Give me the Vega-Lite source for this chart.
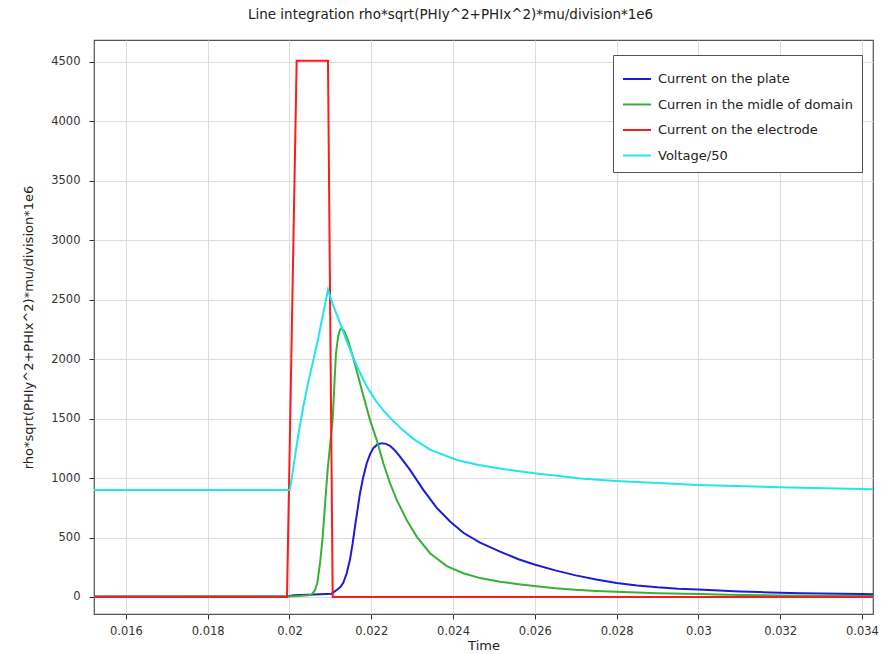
{
  "$schema": "https://vega.github.io/schema/vega-lite/v6.json",
  "width": 779,
  "height": 574,
  "autosize": {"type": "none"},
  "padding": {"left": 94, "top": 40, "right": 21, "bottom": 40},
  "background": "white",
  "config": {
    "font": "DejaVu Sans",
    "view": {"stroke": "#555555", "strokeWidth": 1.2},
    "axis": {
      "labelFont": "DejaVu Sans",
      "labelFontSize": 11.5,
      "labelColor": "#333333",
      "titleFont": "DejaVu Sans",
      "titleFontSize": 13,
      "titleFontWeight": "normal",
      "titleColor": "#222222",
      "domain": false,
      "tickColor": "#333333",
      "tickSize": 5,
      "gridColor": "#dddddd",
      "gridWidth": 1
    }
  },
  "title": {
    "text": "Line integration rho*sqrt(PHIy^2+PHIx^2)*mu/division*1e6",
    "font": "DejaVu Sans",
    "fontSize": 13.5,
    "fontWeight": "normal",
    "color": "#222222",
    "anchor": "middle",
    "frame": "bounds",
    "offset": 19
  },
  "data": {
    "values": [
      {"series": "Current on the plate", "t": 0.01522, "v": 5},
      {"series": "Current on the plate", "t": 0.01994, "v": 5},
      {"series": "Current on the plate", "t": 0.0201, "v": 15},
      {"series": "Current on the plate", "t": 0.0206, "v": 20},
      {"series": "Current on the plate", "t": 0.02103, "v": 28},
      {"series": "Current on the plate", "t": 0.021155, "v": 59},
      {"series": "Current on the plate", "t": 0.02125, "v": 85},
      {"series": "Current on the plate", "t": 0.021316, "v": 120},
      {"series": "Current on the plate", "t": 0.0214, "v": 200},
      {"series": "Current on the plate", "t": 0.02148, "v": 315},
      {"series": "Current on the plate", "t": 0.021545, "v": 450},
      {"series": "Current on the plate", "t": 0.021602, "v": 592},
      {"series": "Current on the plate", "t": 0.021665, "v": 735},
      {"series": "Current on the plate", "t": 0.021725, "v": 873},
      {"series": "Current on the plate", "t": 0.021805, "v": 1010},
      {"series": "Current on the plate", "t": 0.021889, "v": 1125},
      {"series": "Current on the plate", "t": 0.02197, "v": 1200},
      {"series": "Current on the plate", "t": 0.02205, "v": 1252},
      {"series": "Current on the plate", "t": 0.02215, "v": 1283},
      {"series": "Current on the plate", "t": 0.022256, "v": 1294},
      {"series": "Current on the plate", "t": 0.02236, "v": 1288},
      {"series": "Current on the plate", "t": 0.022459, "v": 1271},
      {"series": "Current on the plate", "t": 0.02258, "v": 1232},
      {"series": "Current on the plate", "t": 0.022703, "v": 1181},
      {"series": "Current on the plate", "t": 0.022948, "v": 1069},
      {"series": "Current on the plate", "t": 0.023273, "v": 901},
      {"series": "Current on the plate", "t": 0.023601, "v": 750},
      {"series": "Current on the plate", "t": 0.023927, "v": 635},
      {"series": "Current on the plate", "t": 0.024252, "v": 540},
      {"series": "Current on the plate", "t": 0.024661, "v": 458},
      {"series": "Current on the plate", "t": 0.02515, "v": 381},
      {"series": "Current on the plate", "t": 0.0256, "v": 318},
      {"series": "Current on the plate", "t": 0.02599, "v": 274},
      {"series": "Current on the plate", "t": 0.0265, "v": 224},
      {"series": "Current on the plate", "t": 0.027, "v": 182},
      {"series": "Current on the plate", "t": 0.0275, "v": 147},
      {"series": "Current on the plate", "t": 0.028, "v": 117},
      {"series": "Current on the plate", "t": 0.0285, "v": 96},
      {"series": "Current on the plate", "t": 0.029, "v": 81},
      {"series": "Current on the plate", "t": 0.0295, "v": 70},
      {"series": "Current on the plate", "t": 0.03, "v": 63},
      {"series": "Current on the plate", "t": 0.0305, "v": 54},
      {"series": "Current on the plate", "t": 0.031, "v": 46},
      {"series": "Current on the plate", "t": 0.0315, "v": 41},
      {"series": "Current on the plate", "t": 0.032, "v": 36},
      {"series": "Current on the plate", "t": 0.0325, "v": 32},
      {"series": "Current on the plate", "t": 0.033, "v": 29},
      {"series": "Current on the plate", "t": 0.0335, "v": 27},
      {"series": "Current on the plate", "t": 0.034, "v": 25},
      {"series": "Current on the plate", "t": 0.03427, "v": 24},

      {"series": "Curren in the midle of domain", "t": 0.01522, "v": 3},
      {"series": "Curren in the midle of domain", "t": 0.01994, "v": 5},
      {"series": "Curren in the midle of domain", "t": 0.0203, "v": 10},
      {"series": "Curren in the midle of domain", "t": 0.02045, "v": 14},
      {"series": "Curren in the midle of domain", "t": 0.020543, "v": 20},
      {"series": "Curren in the midle of domain", "t": 0.02062, "v": 55},
      {"series": "Curren in the midle of domain", "t": 0.02068, "v": 118},
      {"series": "Curren in the midle of domain", "t": 0.02075, "v": 290},
      {"series": "Curren in the midle of domain", "t": 0.020812, "v": 508},
      {"series": "Curren in the midle of domain", "t": 0.02087, "v": 780},
      {"series": "Curren in the midle of domain", "t": 0.020934, "v": 1069},
      {"series": "Curren in the midle of domain", "t": 0.021, "v": 1300},
      {"series": "Curren in the midle of domain", "t": 0.021057, "v": 1490},
      {"series": "Curren in the midle of domain", "t": 0.0211, "v": 1800},
      {"series": "Curren in the midle of domain", "t": 0.021138, "v": 2054},
      {"series": "Curren in the midle of domain", "t": 0.02119, "v": 2190},
      {"series": "Curren in the midle of domain", "t": 0.021236, "v": 2248},
      {"series": "Curren in the midle of domain", "t": 0.021277, "v": 2264},
      {"series": "Curren in the midle of domain", "t": 0.02135, "v": 2230},
      {"series": "Curren in the midle of domain", "t": 0.02144, "v": 2150},
      {"series": "Curren in the midle of domain", "t": 0.02156, "v": 2010},
      {"series": "Curren in the midle of domain", "t": 0.0217, "v": 1830},
      {"series": "Curren in the midle of domain", "t": 0.02184, "v": 1650},
      {"series": "Curren in the midle of domain", "t": 0.021969, "v": 1490},
      {"series": "Curren in the midle of domain", "t": 0.022133, "v": 1322},
      {"series": "Curren in the midle of domain", "t": 0.022295, "v": 1125},
      {"series": "Curren in the midle of domain", "t": 0.022459, "v": 957},
      {"series": "Curren in the midle of domain", "t": 0.022623, "v": 817},
      {"series": "Curren in the midle of domain", "t": 0.022867, "v": 648},
      {"series": "Curren in the midle of domain", "t": 0.023112, "v": 508},
      {"series": "Curren in the midle of domain", "t": 0.023437, "v": 368},
      {"series": "Curren in the midle of domain", "t": 0.023846, "v": 260},
      {"series": "Curren in the midle of domain", "t": 0.024252, "v": 200},
      {"series": "Curren in the midle of domain", "t": 0.024661, "v": 159},
      {"series": "Curren in the midle of domain", "t": 0.02515, "v": 128},
      {"series": "Curren in the midle of domain", "t": 0.0256, "v": 108},
      {"series": "Curren in the midle of domain", "t": 0.02599, "v": 93},
      {"series": "Curren in the midle of domain", "t": 0.0265, "v": 74},
      {"series": "Curren in the midle of domain", "t": 0.027, "v": 60},
      {"series": "Curren in the midle of domain", "t": 0.0275, "v": 51},
      {"series": "Curren in the midle of domain", "t": 0.028, "v": 44},
      {"series": "Curren in the midle of domain", "t": 0.0285, "v": 37},
      {"series": "Curren in the midle of domain", "t": 0.029, "v": 32},
      {"series": "Curren in the midle of domain", "t": 0.03, "v": 25},
      {"series": "Curren in the midle of domain", "t": 0.031, "v": 17},
      {"series": "Curren in the midle of domain", "t": 0.032, "v": 12},
      {"series": "Curren in the midle of domain", "t": 0.033, "v": 9},
      {"series": "Curren in the midle of domain", "t": 0.03427, "v": 8},

      {"series": "Current on the electrode", "t": 0.01522, "v": 0},
      {"series": "Current on the electrode", "t": 0.01994, "v": 0},
      {"series": "Current on the electrode", "t": 0.020176, "v": 4510},
      {"series": "Current on the electrode", "t": 0.020942, "v": 4510},
      {"series": "Current on the electrode", "t": 0.021057, "v": 0},
      {"series": "Current on the electrode", "t": 0.03427, "v": 0},

      {"series": "Voltage/50", "t": 0.01522, "v": 901},
      {"series": "Voltage/50", "t": 0.02001, "v": 901},
      {"series": "Voltage/50", "t": 0.020086, "v": 1069},
      {"series": "Voltage/50", "t": 0.02021, "v": 1350},
      {"series": "Voltage/50", "t": 0.020338, "v": 1600},
      {"series": "Voltage/50", "t": 0.02046, "v": 1810},
      {"series": "Voltage/50", "t": 0.020582, "v": 1990},
      {"series": "Voltage/50", "t": 0.0207, "v": 2170},
      {"series": "Voltage/50", "t": 0.020827, "v": 2390},
      {"series": "Voltage/50", "t": 0.020942, "v": 2584},
      {"series": "Voltage/50", "t": 0.02104, "v": 2480},
      {"series": "Voltage/50", "t": 0.021236, "v": 2304},
      {"series": "Voltage/50", "t": 0.02138, "v": 2170},
      {"series": "Voltage/50", "t": 0.02153, "v": 2040},
      {"series": "Voltage/50", "t": 0.021644, "v": 1945},
      {"series": "Voltage/50", "t": 0.02179, "v": 1840},
      {"series": "Voltage/50", "t": 0.021945, "v": 1740},
      {"series": "Voltage/50", "t": 0.022133, "v": 1640},
      {"series": "Voltage/50", "t": 0.02232, "v": 1560},
      {"series": "Voltage/50", "t": 0.02251, "v": 1490},
      {"series": "Voltage/50", "t": 0.02275, "v": 1410},
      {"series": "Voltage/50", "t": 0.023029, "v": 1330},
      {"series": "Voltage/50", "t": 0.023437, "v": 1240},
      {"series": "Voltage/50", "t": 0.02409, "v": 1153},
      {"series": "Voltage/50", "t": 0.02463, "v": 1110},
      {"series": "Voltage/50", "t": 0.02515, "v": 1080},
      {"series": "Voltage/50", "t": 0.02599, "v": 1041},
      {"series": "Voltage/50", "t": 0.02719, "v": 995},
      {"series": "Voltage/50", "t": 0.02798, "v": 976},
      {"series": "Voltage/50", "t": 0.029, "v": 958},
      {"series": "Voltage/50", "t": 0.02999, "v": 943},
      {"series": "Voltage/50", "t": 0.03198, "v": 923},
      {"series": "Voltage/50", "t": 0.03427, "v": 907}
    ]
  },
  "mark": {"type": "line", "strokeWidth": 2, "clip": true, "interpolate": "linear"},
  "encoding": {
    "x": {
      "field": "t",
      "type": "quantitative",
      "title": "Time",
      "scale": {"domain": [0.01522, 0.03427], "nice": false, "zero": false},
      "axis": {
        "values": [0.016, 0.018, 0.02, 0.022, 0.024, 0.026, 0.028, 0.03, 0.032, 0.034],
        "format": ".3~f",
        "labelPadding": 6,
        "titlePadding": 3
      }
    },
    "y": {
      "field": "v",
      "type": "quantitative",
      "title": "rho*sqrt(PHIy^2+PHIx^2)*mu/division*1e6",
      "scale": {"domain": [-143, 4685], "nice": false, "zero": false},
      "axis": {
        "values": [0, 500, 1000, 1500, 2000, 2500, 3000, 3500, 4000, 4500],
        "format": "d",
        "labelPadding": 9,
        "titlePadding": 15
      }
    },
    "color": {
      "field": "series",
      "type": "nominal",
      "sort": ["Current on the plate", "Curren in the midle of domain", "Current on the electrode", "Voltage/50"],
      "scale": {
        "domain": ["Current on the plate", "Curren in the midle of domain", "Current on the electrode", "Voltage/50"],
        "range": ["#1c1cd8", "#38b038", "#ff1a1a", "#22e6ec"]
      },
      "legend": {
        "title": null,
        "orient": "none",
        "legendX": 519,
        "legendY": 15,
        "fillColor": "white",
        "strokeColor": "#555555",
        "padding": 9,
        "symbolType": "stroke",
        "symbolSize": 784,
        "symbolStrokeWidth": 2,
        "labelFont": "DejaVu Sans",
        "labelFontSize": 13,
        "labelColor": "#222222",
        "labelOffset": 6,
        "labelLimit": 0,
        "rowPadding": 3.5
      }
    }
  }
}
